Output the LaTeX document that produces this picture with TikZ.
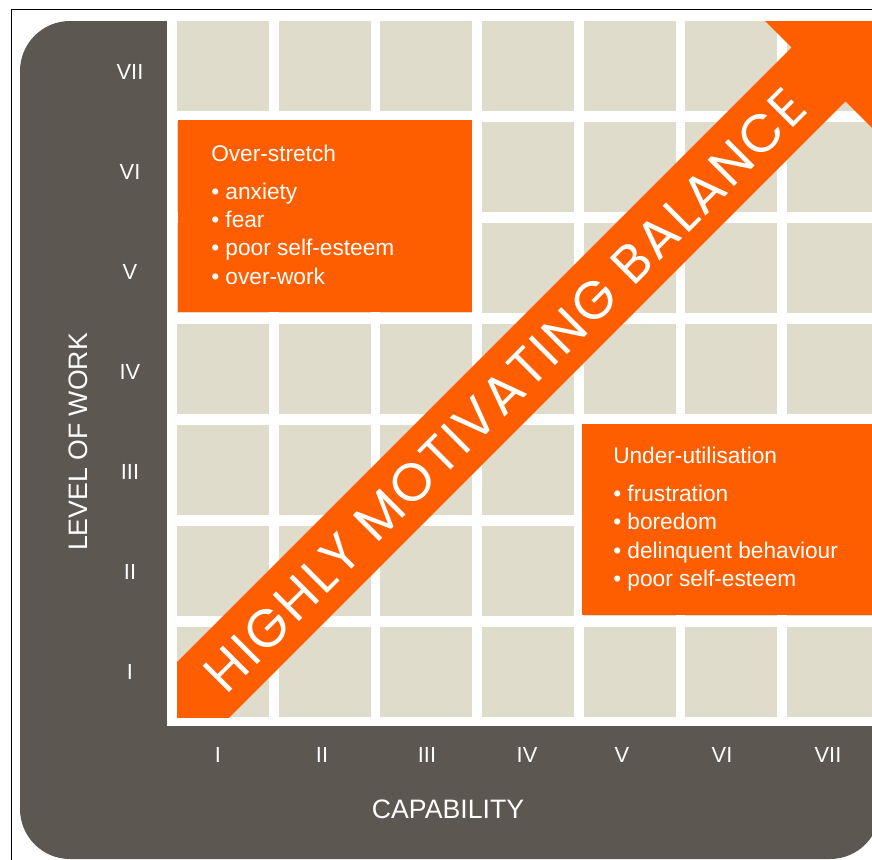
\documentclass[tikz,border=0pt]{standalone}
\usepackage{fontspec}
\setmainfont{Liberation Sans}
\newfontfamily\bandfont[LetterSpace=5]{Poppins}
\definecolor{slate}{HTML}{5C5751}
\definecolor{sand}{HTML}{E0DCCB}
\definecolor{flame}{HTML}{FF5E00}

\begin{document}
\begin{tikzpicture}[x=0.75pt,y=-0.75pt,
  tick/.style={text=white,inner sep=0pt,font=\fontsize{16.4}{19}\selectfont},
  axis/.style={text=white,inner sep=0pt,font=\fontsize{20}{24}\selectfont},
  item/.style={text=white,inner sep=0pt,anchor=base west,font=\fontsize{17}{20}\selectfont}]
\useasboundingbox (0,0) rectangle (872,860);
\fill[slate,rounded corners=37.5pt] (20,21) rectangle (880,859);
\fill[white] (167,15) rectangle (900,726);
\draw[black,line width=0.75pt] (900,9) -- (11,9) -- (11,880);
% squares of the grid
\foreach \i in {0,...,6}
  \foreach \j in {0,...,6}
    \fill[sand] ({177+101.67*\i},{21+101*\j}) rectangle +(92,90);
% the two orange panels
\fill[flame] (178,120) rectangle (472,312);
\fill[flame] (582,424) rectangle (900,615);
\node[item] (over) at (211,161) {Over-stretch};
\foreach \t [count=\k from 0] in {anxiety,fear,poor self-esteem,over-work}
  \node[item] (over\k) at (211,{199+28.4*\k}) {• \t};
\node[item] (under) at (613,463) {Under-utilisation};
\foreach \t [count=\k from 0] in {frustration,boredom,delinquent behaviour,poor self-esteem}
  \node[item] (under\k) at (613,{501+28.6*\k}) {• \t};
% diagonal arrow
\begin{scope}
\clip (177,21) rectangle (900,717);
\fill[flame] (123.1,716.1) -- (791.6,47.6) -- (754.9,10.9) -- (882.1,10.9)
  -- (882.1,138.1) -- (845.4,101.4) -- (176.9,769.9) -- cycle;
\end{scope}
\node[rotate=45,text=white,inner sep=0pt,font=\bandfont\fontsize{40}{44}\selectfont]
  (motto) at (505,390) {HIGHLY MOTIVATING BALANCE};
% axis labels
\foreach \r [count=\k from 0] in {I,II,III,IV,V,VI,VII}
  \node[tick] (row\r) at (130,{672-100*\k}) {\r};
\foreach \r/\cx in {I/218,II/322,III/427,IV/527,V/622,VI/722,VII/828}
  \node[tick] (col\r) at (\cx,755) {\r};
\node[axis,rotate=90] (level) at (78,442) {LEVEL OF WORK};
\node[axis] (capab) at (448,809) {CAPABILITY};
\end{tikzpicture}
\end{document}
